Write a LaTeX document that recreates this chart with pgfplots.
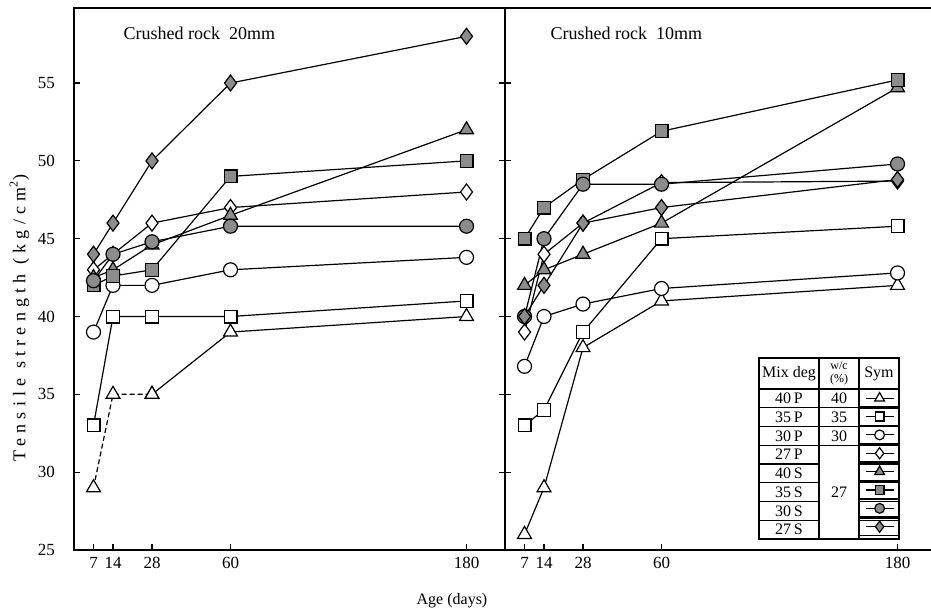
\documentclass[border=0pt]{standalone}
\usepackage{fontspec}
\setmainfont{Liberation Serif}
\usepackage{pgfplots}
\pgfplotsset{compat=1.18}
\pgfplotsset{
  daytrafo/.style={x coord trafo/.code={\pgfmathparse{(##1<28.5) ? (19.5+(##1-7)*2.785714) : ((##1<60.5) ? (78+(##1-28)*2.453125) : (156.5+(##1-60)*1.966667))}}},
  base/.style={daytrafo, scale only axis, height=271pt, ymin=25, ymax=59.82, xmin=0,
    xtick={7,14,28,60,180}, xticklabels={7,14,28,60,180}, ytick={25,30,35,40,45,50,55},
    tick align=inside, major tick length=3pt, xtick pos=left,
    axis line style={line width=0.75pt}, every tick/.style={line width=0.6pt, black},
    /pgf/number format/assume math mode=true,
    tick label style={font=\fontsize{8.5}{10}\selectfont},
    yticklabel style={xshift=-6pt},
    anchor=south west, clip=false},
  pl/.style={line width=0.6pt, black, solid},
  wP40/.style={pl, mark=triangle*, mark size=4pt, mark options={solid, fill=white, line width=0.6pt}},
  wP35/.style={pl, mark=square*, mark size=3.2pt, mark options={solid, fill=white, line width=0.6pt}},
  wP30/.style={pl, mark=*, mark size=3.5pt, mark options={solid, fill=white, line width=0.6pt}},
  wP27/.style={pl, mark=diamond*, mark size=4pt, mark options={solid, fill=white, line width=0.6pt}},
  gS40/.style={pl, mark=triangle*, mark size=4pt, mark options={solid, fill=black!45, line width=0.6pt}},
  gS35/.style={pl, mark=square*, mark size=3.2pt, mark options={solid, fill=black!45, line width=0.6pt}},
  gS30/.style={pl, mark=*, mark size=3.5pt, mark options={solid, fill=black!45, line width=0.6pt}},
  gS27/.style={pl, mark=diamond*, mark size=4pt, mark options={solid, fill=black!45, line width=0.6pt}},
}
\begin{document}
\begin{tikzpicture}
\path[use as bounding box] (0,0) rectangle (465.5pt,304.5pt);
% ---------- left panel: crushed rock 20 mm ----------
\begin{axis}[base, at={(37pt,29.5pt)}, width=215.5pt, xmax=199.58]
\addplot[wP40, dashed, dash pattern=on 2.5pt off 1.5pt, forget plot] coordinates {(7,29) (14,35) (28,35)};
\addplot[wP40] coordinates {(28,35) (60,39) (180,40)};
\addplot[wP35] coordinates {(7,33) (14,40) (28,40) (60,40) (180,41)};
\addplot[wP30] coordinates {(7,39) (14,42) (28,42) (60,43) (180,43.8)};
\addplot[wP27] coordinates {(7,43) (14,44) (28,46) (60,47) (180,48)};
\addplot[gS40] coordinates {(7,42.5) (14,43) (28,44.6) (60,46.5) (180,52)};
\addplot[gS35] coordinates {(7,42) (14,42.6) (28,43) (60,49) (180,50)};
\addplot[gS30] coordinates {(7,42.3) (14,44) (28,44.8) (60,45.8) (180,45.8)};
\addplot[gS27] coordinates {(7,44) (14,46) (28,50) (60,55) (180,58)};
\end{axis}
% ---------- table of the legend (drawn in pixel units) ----------
\begin{scope}[x=0.5pt, y=-0.5pt, shift={(0,304.5pt)}, line width=0.6pt]
\draw (759,358) rectangle (899,539);
\draw (819,358) -- (819,539) (859,358) -- (859,539);
\foreach \yy in {389,407.75,426.5,445.25,464,482.75,501.5,520.25} {
  \draw (759,\yy) -- (819,\yy) (859,\yy) -- (899,\yy);
}
\foreach \yy in {389,407.75,426.5,445.25} { \draw (819,\yy) -- (859,\yy); }
\begin{scope}[every node/.style={font=\fontsize{8}{9}\selectfont, inner sep=0pt}]
\node at (789,373.5) {Mix deg};
\node[font=\fontsize{6}{6.5}\selectfont, align=center] at (839,373.5) {w/c\\(\%)};
\node at (879,373.5) {Sym};
\node at (789,398.375) {40\,P};
\node at (789,417.125) {35\,P};
\node at (789,435.875) {30\,P};
\node at (789,454.625) {27\,P};
\node at (789,473.375) {40\,S};
\node at (789,492.125) {35\,S};
\node at (789,510.875) {30\,S};
\node at (789,529.625) {27\,S};
\node at (839,398.375) {40};
\node at (839,417.125) {35};
\node at (839,435.875) {30};
\node at (839,492.125) {27};
\end{scope}
% texts
\node[anchor=west, inner sep=0pt, font=\fontsize{9}{10}\selectfont] at (123,33) {Crushed rock\hspace{0.25em} 20mm};
\node[anchor=west, inner sep=0pt, font=\fontsize{9}{10}\selectfont] at (550,33) {Crushed rock\hspace{0.25em} 10mm};
\node[font=\fontsize{8}{9}\selectfont] at (452,601) {Age (days)};
\node[rotate=90, font=\fontsize{9}{10}\selectfont\addfontfeature{LetterSpace=29}] at (19.5,318) {Tensile strength (kg/cm\textsuperscript{2})};
\draw[line width=0.75pt] (505,8) -- (931,8);
\end{scope}
% ---------- right panel: crushed rock 10 mm ----------
\begin{axis}[base, at={(252.5pt,29.5pt)}, width=213pt, xmax=197.03,
  axis lines*=left, yticklabels={},
  legend style={at={(0.83099,0.29705)}, anchor=north west, draw=none, fill=none,
    inner sep=0pt, outer sep=0pt, row sep=0pt, column sep=0pt,
    nodes={inner sep=0pt, outer sep=0pt, text depth=0pt, text height=0pt}},
  legend image code/.code={
    \path (0pt,-4.29pt) rectangle (20pt,4.29pt);
    \draw[mark repeat=2, mark phase=2, #1, every mark/.append style={scale=0.7}] plot coordinates {(3pt,0pt) (10pt,0pt) (17pt,0pt)};}]
\addplot[wP40] coordinates {(7,26) (14,29) (28,38) (60,41) (180,42)};
\addlegendentry{\mbox{}}
\addplot[wP35] coordinates {(7,33) (14,34) (28,39) (60,45) (180,45.8)};
\addlegendentry{\mbox{}}
\addplot[wP30] coordinates {(7,36.8) (14,40) (28,40.8) (60,41.8) (180,42.8)};
\addlegendentry{\mbox{}}
\addplot[wP27] coordinates {(7,39) (14,44) (28,46) (60,48.6) (180,48.7)};
\addlegendentry{\mbox{}}
\addplot[gS40] coordinates {(7,42) (14,43) (28,44) (60,46) (180,54.7)};
\addlegendentry{\mbox{}}
\addplot[gS35] coordinates {(7,45) (14,47) (28,48.8) (60,51.9) (180,55.2)};
\addlegendentry{\mbox{}}
\addplot[gS30] coordinates {(7,40) (14,45) (28,48.5) (60,48.5) (180,49.8)};
\addlegendentry{\mbox{}}
\addplot[gS27] coordinates {(7,40) (14,42) (28,46) (60,47) (180,48.8)};
\addlegendentry{\mbox{}}
\end{axis}
\end{tikzpicture}
\end{document}
